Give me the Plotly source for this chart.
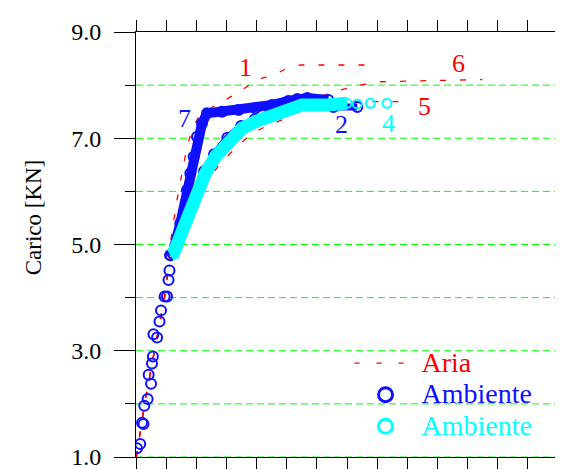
import plotly.graph_objects as go

# ---- data (x: arbitrary displacement units, y: load in kN) ----
amb_blue_x = [0.033, 0.14, 0.20, 0.25, 0.275, 0.385, 0.42, 0.50, 0.53, 0.56, 0.58, 0.70, 0.78, 0.83, 0.95, 1.03, 1.08, 1.11, 1.14]
amb_blue_y = [1.164, 1.245, 1.646, 1.62, 1.966, 2.09, 2.55, 2.38, 2.76, 2.89, 3.31, 3.25, 3.55, 3.76, 4.02, 4.02, 4.33, 4.51, 4.80]

curve7_x = [1.14, 1.214, 1.470, 1.692, 1.802, 1.911, 2.024, 2.190, 2.356, 2.853, 3.404, 3.958, 4.512, 5.053, 5.352, 5.683, 6.380]
curve7_y = [4.80, 4.834, 5.399, 6.026, 6.340, 6.653, 7.029, 7.281, 7.470, 7.500, 7.532, 7.564, 7.626, 7.701, 7.739, 7.758, 7.720]

curve2_x = [1.14, 1.590, 1.930, 2.260, 2.590, 3.030, 3.490, 3.940, 4.500, 5.060, 5.600, 6.115, 6.546, 7.342]
curve2_y = [4.80, 5.430, 5.930, 6.380, 6.700, 7.010, 7.230, 7.360, 7.490, 7.610, 7.670, 7.645, 7.588, 7.588]

curve4_x = [1.14, 1.248, 1.636, 1.967, 2.299, 2.631, 3.072, 3.517, 3.958, 4.512, 5.063, 5.508, 6.337, 7.001]
curve4_y = [4.80, 4.834, 5.399, 5.900, 6.340, 6.653, 6.967, 7.187, 7.312, 7.438, 7.564, 7.626, 7.626, 7.658]
curve4_end_x = [7.001, 7.342, 7.774, 8.328]
curve4_end_y = [7.658, 7.645, 7.658, 7.658]

aria_low_x = [0.010, 0.143, 0.309, 0.574, 0.806, 0.972, 1.082]
aria_low_y = [1.0, 1.508, 2.073, 2.882, 3.579, 4.087, 4.582]

aria1_x = aria_low_x + [1.138, 1.360, 1.526, 1.692, 1.858, 2.077, 2.465, 2.853, 3.351, 4.015, 4.678, 5.010, 5.451, 7.664]
aria1_y = aria_low_y + [5.023, 5.838, 6.340, 6.841, 7.155, 7.406, 7.564, 7.688, 7.846, 8.096, 8.222, 8.317, 8.379, 8.379]

aria5_x = aria_low_x + [1.271, 1.536, 1.967, 2.399, 2.797, 3.404, 3.849, 4.290, 4.844, 5.285, 5.893, 6.337, 7.996, 8.935]
aria5_y = aria_low_y + [4.896, 5.311, 5.838, 6.214, 6.528, 6.873, 7.093, 7.218, 7.344, 7.470, 7.594, 7.688, 7.688, 7.688]

aria6_x = aria_low_x + [1.271, 1.636, 2.067, 2.532, 3.129, 3.958, 4.954, 5.949, 6.779, 7.442, 8.106, 9.765, 11.490]
aria6_y = aria_low_y + [4.896, 5.499, 6.120, 6.591, 7.061, 7.381, 7.607, 7.758, 7.908, 8.002, 8.064, 8.087, 8.106]

curve_labels = ["1", "6", "5", "7", "2", "4"]
label_x = [3.626, 10.69, 9.565, 1.603, 6.812, 8.37]
label_y = [8.341, 8.416, 7.607, 7.381, 7.268, 7.287]
label_colors = ["#ff0000", "#ff0000", "#ff0000", "#1010ff", "#1010ff", "#00ffff"]

y_all_vals = [1, 2, 3, 4, 5, 6, 7, 8, 9]
y_all_text = ["1.0", "", "3.0", "", "5.0", "", "7.0", "", "9.0"]
y_long_vals = [1, 3, 5, 7, 9]
grid_vals = [1, 2, 3, 4, 5, 6, 7, 8]

legend_names = ["Aria", "Ambiente", "Ambiente"]

RED = "#ff0000"
BLUE = "#1010ff"
CYAN = "#00ffff"
GREEN = "#00ff00"
FONT = "Liberation Serif"

fig = go.Figure()

# horizontal green dashed grid lines
for gv in grid_vals:
    fig.add_shape(type="line", xref="paper", yref="y", x0=0, x1=1, y0=gv, y1=gv,
                  line=dict(color=GREEN, width=1, dash="7px,4px"), layer="below")

red_dash = "6px,14px"
# Aria curves (drawn under the others)
for ax, ay in [(aria1_x, aria1_y), (aria5_x, aria5_y), (aria6_x, aria6_y)]:
    fig.add_trace(go.Scatter(x=ax, y=ay, mode="lines",
                             line=dict(color=RED, width=1.3, dash=red_dash), showlegend=False))

# Ambiente blue: sparse initial circles
fig.add_trace(go.Scatter(x=amb_blue_x, y=amb_blue_y, mode="markers",
                         marker=dict(symbol="circle-open", size=10, color=BLUE, line=dict(width=2, color=BLUE)),
                         showlegend=False))
# curve 2 (blue, mostly under cyan)
fig.add_trace(go.Scatter(x=curve2_x, y=curve2_y, mode="lines+markers",
                         line=dict(color=BLUE, width=7),
                         marker=dict(symbol="circle-open", size=10, color=BLUE, line=dict(width=2, color=BLUE)),
                         showlegend=False))
# curve 7 (blue band)
fig.add_trace(go.Scatter(x=curve7_x, y=curve7_y, mode="lines+markers",
                         line=dict(color=BLUE, width=10),
                         marker=dict(symbol="circle-open", size=10, color=BLUE, line=dict(width=2, color=BLUE)),
                         showlegend=False))
# curve 4 (cyan band)
fig.add_trace(go.Scatter(x=curve4_x, y=curve4_y, mode="lines",
                         line=dict(color=CYAN, width=13), showlegend=False))
fig.add_trace(go.Scatter(x=curve4_end_x, y=curve4_end_y, mode="markers",
                         marker=dict(symbol="circle-open", size=9, color=CYAN, line=dict(width=2, color=CYAN)),
                         showlegend=False))

# legend entries
fig.add_trace(go.Scatter(x=[None], y=[None], mode="lines",
                         line=dict(color=RED, width=1.3, dash="5px,17px"),
                         name='<span style="font-size:28px;color:#ff0000">%s</span>' % legend_names[0]))
fig.add_trace(go.Scatter(x=[None], y=[None], mode="markers",
                         marker=dict(symbol="circle-open", size=14, color=BLUE, line=dict(width=3, color=BLUE)),
                         name='<span style="font-size:28px;color:#1010ff">%s</span>' % legend_names[1]))
fig.add_trace(go.Scatter(x=[None], y=[None], mode="markers",
                         marker=dict(symbol="circle-open", size=14, color=CYAN, line=dict(width=3, color=CYAN)),
                         name='<span style="font-size:28px;color:#00ffff">%s</span>' % legend_names[2]))

for t, lx, ly, c in zip(curve_labels, label_x, label_y, label_colors):
    fig.add_annotation(x=lx, y=ly, text=t, showarrow=False,
                       font=dict(family=FONT, size=26, color=c))

# y-axis title
fig.add_annotation(xref="paper", yref="paper", x=-0.244, y=0.564, text="Carico [KN]",
                   xanchor="center", yanchor="middle",
                   textangle=-90, showarrow=False, font=dict(family=FONT, size=23, color="black"))

fig.update_layout(
    template="none",
    width=555, height=462, margin=dict(l=128, r=5, t=24, b=13),
    plot_bgcolor="white", paper_bgcolor="white",
    font=dict(family=FONT),
    xaxis=dict(range=[0, 14], dtick=1, tick0=0, ticks="outside", ticklen=11, tickcolor="black",
               showticklabels=False, showgrid=False, zeroline=False, automargin=False,
               showline=True, linecolor="black", linewidth=1, mirror="ticks"),
    yaxis=dict(range=[1, 9], tickvals=y_all_vals, ticktext=y_all_text, ticks="outside", ticklen=10,
               tickcolor="black", tickfont=dict(family=FONT, size=24, color="black"),
               ticklabelstandoff=19, ticklabeloverflow="allow", automargin=False, zeroline=False,
               showgrid=False,
               showline=True, linecolor="black", linewidth=1, mirror="ticks"),
    yaxis2=dict(range=[1, 9], overlaying="y", anchor="x", side="left", tickvals=y_long_vals,
                ticks="outside", ticklen=21, tickcolor="black", showticklabels=False, showgrid=False,
                automargin=False, zeroline=False, showline=False, mirror="ticks"),
    legend=dict(x=0.506, y=0.27, xanchor="left", yanchor="top",
                bgcolor="rgba(0,0,0,0)", borderwidth=0, itemwidth=62,
                font=dict(family=FONT, size=22)),
)
# invisible trace to activate yaxis2
fig.add_trace(go.Scatter(x=[None], y=[None], yaxis="y2", showlegend=False, hoverinfo="skip"))

fig.write_html("out.html")
